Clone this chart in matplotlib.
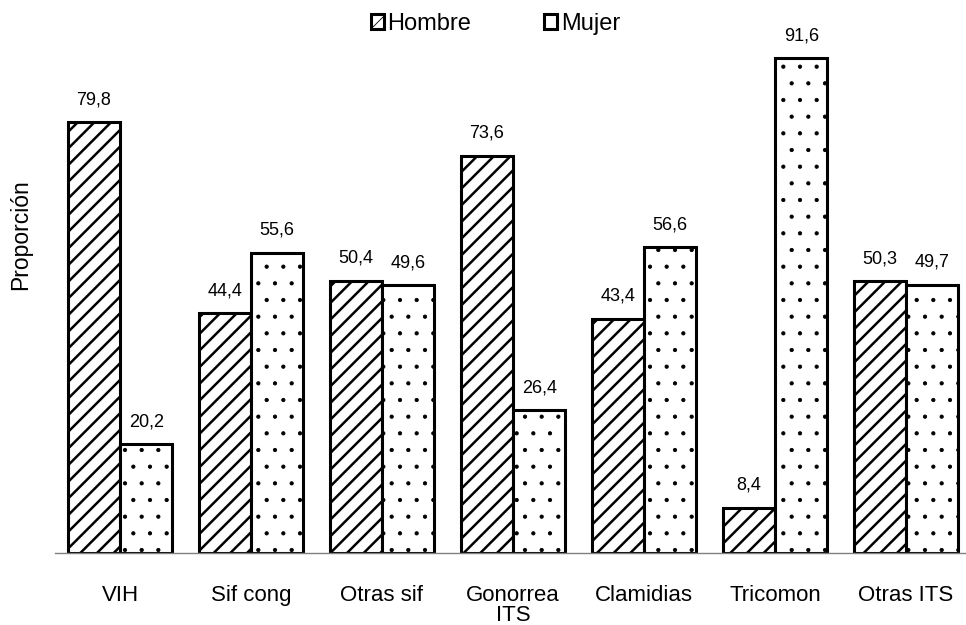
import matplotlib.pyplot as plt
import numpy as np

categorias = ["VIH", "Sif cong", "Otras sif", "Gonorrea", "Clamidias", "Tricomon", "Otras ITS"]
hombre = [79.8, 44.4, 50.4, 73.6, 43.4, 8.4, 50.3]
mujer = [20.2, 55.6, 49.6, 26.4, 56.6, 91.6, 49.7]

plt.rcParams['font.family'] = ['Liberation Sans', 'DejaVu Sans']

fig = plt.figure(figsize=(9.66, 6.25), dpi=100)
ax = fig.add_axes([54.5/966, 72/625, 917/966, 540/625])

x = np.arange(len(categorias))
w = 0.4

plt.rcParams['hatch.linewidth'] = 1.8
b1 = ax.bar(x - w/2, hombre, w, color='white', edgecolor='black', linewidth=2.2,
            hatch='//', label='Hombre')
plt.rcParams['hatch.linewidth'] = 0.6
b2 = ax.bar(x + w/2, mujer, w, color='white', edgecolor='black', linewidth=2.2,
            hatch='.', label='Mujer')

fmt = lambda v: ("%.1f" % v).replace('.', ',')
ax.bar_label(b1, labels=[fmt(v) for v in hombre], padding=10, fontsize=13)
ax.bar_label(b2, labels=[fmt(v) for v in mujer], padding=10, fontsize=13)

ax.set_xlim(-0.5, 6.5)
ax.set_ylim(0, 100)
ax.set_xticks(x)
ax.set_xticklabels(categorias, fontsize=16)
ax.tick_params(axis='x', length=0, pad=23)
ax.set_yticks([])
for s in ['top', 'right', 'left']:
    ax.spines[s].set_visible(False)
ax.spines['bottom'].set_color('#808080')
ax.spines['bottom'].set_linewidth(1)

ax.set_xlabel("ITS", fontsize=16, labelpad=-0.5)
ax.set_ylabel("Proporción", fontsize=16.5)
ax.yaxis.set_label_coords(-0.024, 0.589)

fig.legend(handles=[b1, b2], loc='center', bbox_to_anchor=(0.513, 0.962), ncol=2,
           frameon=False, fontsize=17, handlelength=0.55, handleheight=0.55,
           handletextpad=0.15, columnspacing=3.1)

fig.savefig("out.png", dpi=100)
